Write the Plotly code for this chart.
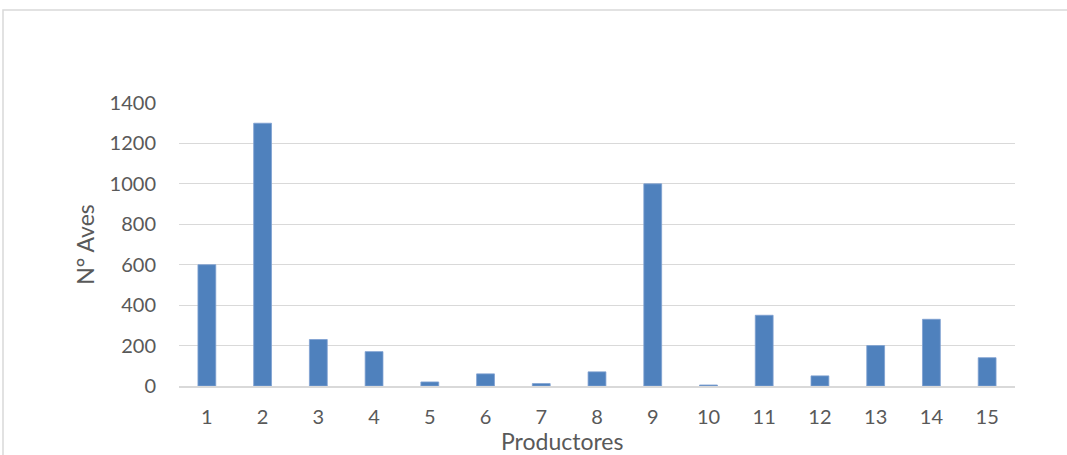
import plotly.graph_objects as go

productores = [str(i) for i in range(1, 16)]
aves = [600, 1300, 230, 170, 20, 60, 12, 70, 1000, 5, 350, 50, 200, 330, 140]
y_ticks = [0, 200, 400, 600, 800, 1000, 1200, 1400]

L, R, T, B = 179, 52, 103, 69
W, H = 1067, 455
pw, ph = W - L - R, H - T - B

fig = go.Figure(go.Bar(x=productores, y=aves,
                       marker=dict(color="#4f81bd", line=dict(width=0.8, color="#7da0d0")),
                       width=0.32))

font = "Lato, 'Open Sans', sans-serif"
fig.update_layout(
    width=W, height=H,
    margin=dict(l=L, r=R, t=T, b=B),
    plot_bgcolor="white", paper_bgcolor="white",
    showlegend=False,
    font=dict(family=font, color="#595959", size=20),
    xaxis=dict(type="category", showgrid=False, showline=True, linecolor="#d9d9d9", linewidth=1.5,
               ticks="", ticklabelstandoff=12, tickfont=dict(size=20, color="#595959")),
    yaxis=dict(range=[0, 1400], tickvals=y_ticks, showgrid=True, gridcolor="#d9d9d9", gridwidth=1.3,
               zeroline=False, showline=False, ticks="", ticklabelstandoff=22,
               tickfont=dict(size=20, color="#595959"),
               title=dict(text="N° Aves", font=dict(size=23, color="#595959"), standoff=8)),
    shapes=[dict(type="rect", xref="paper", yref="paper",
                 x0=(3 - L) / pw, x1=1.5, y0=-1, y1=(H - B - 10) / ph,
                 line=dict(color="#d9d9d9", width=1.5))],
    annotations=[dict(text="Productores", xref="paper", yref="paper",
                      x=(562 - L) / pw, y=(H - B - 441) / ph, xanchor="center", yanchor="middle",
                      showarrow=False, font=dict(size=23, color="#595959"))],
)

fig.write_html("out.html", config={"displayModeBar": False},
               post_script="document.body.style.margin='0';")
